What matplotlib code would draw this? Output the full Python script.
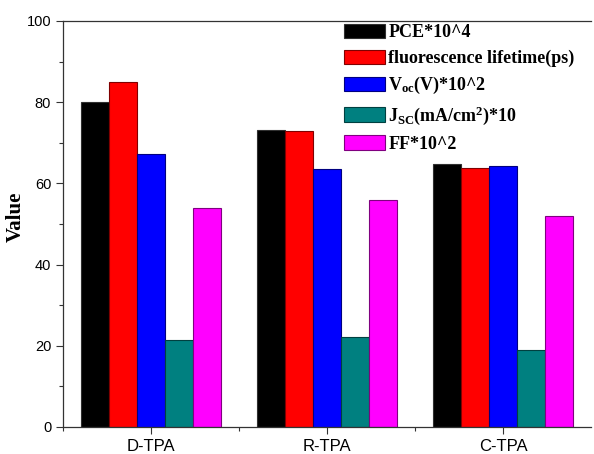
import matplotlib.pyplot as plt
import numpy as np

samples = ["D-TPA", "R-TPA", "C-TPA"]
pce = [80.1, 73.1, 64.9]
lifetime = [84.9, 72.8, 63.9]
voc = [67.2, 63.5, 64.3]
jsc = [21.4, 22.2, 18.9]
ff = [53.9, 55.9, 51.9]

labels = [
    "PCE*10^4",
    "fluorescence lifetime(ps)",
    r"V$_\mathrm{oc}$(V)*10^2",
    r"J$_\mathrm{SC}$(mA/cm$^\mathrm{2}$)*10",
    "FF*10^2",
]
faces = ["#000000", "#ff0000", "#0000ff", "#008080", "#ff00ff"]
edges = ["#303030", "#800000", "#000080", "#004040", "#800080"]


def main():
    plt.rcParams["mathtext.fontset"] = "custom"
    plt.rcParams["mathtext.rm"] = "Liberation Serif:bold"
    plt.rcParams["mathtext.bf"] = "Liberation Serif:bold"
    plt.rcParams["mathtext.it"] = "Liberation Serif:bold:italic"

    fig = plt.figure(figsize=(5.94, 4.54), dpi=100)
    ax = fig.add_axes([63 / 594, 27 / 454, 528 / 594, 406 / 454])

    x = np.arange(1, len(samples) + 1)
    width = 0.16
    series = [pce, lifetime, voc, jsc, ff]
    for ii, vals in enumerate(series):
        ax.bar(x + (ii - 2) * width, vals, width, color=faces[ii], edgecolor=edges[ii],
               linewidth=0.8, label=labels[ii])

    ax.set_xlim(0.5, 3.5)
    ax.set_ylim(0, 100)
    ax.set_xticks(x)
    ax.set_xticklabels(samples, fontsize=12, family="Liberation Sans")
    ax.set_xticks([0.5, 1.5, 2.5], minor=True)
    ax.set_yticks(np.arange(0, 101, 20))
    ax.set_yticks(np.arange(10, 100, 20), minor=True)
    for lab in ax.get_yticklabels():
        lab.set_fontsize(10.5)
        lab.set_family("Liberation Sans")
    ax.tick_params(which="major", direction="out", length=5, width=0.8, colors="#333333",
                   labelcolor="black")
    ax.tick_params(which="minor", direction="out", length=3, width=0.8, colors="#333333")
    ax.tick_params(axis="x", which="both", top=False)
    ax.spines["right"].set_visible(False)
    for side in ["left", "bottom", "top"]:
        ax.spines[side].set_linewidth(0.9)
        ax.spines[side].set_color("#333333")

    ax.set_ylabel("Value", fontsize=15, family="Liberation Serif", fontweight="bold")
    ax.yaxis.set_label_coords(-0.07, 0.517)

    ax.legend(loc="upper left", bbox_to_anchor=(344 / 594, 430 / 454),
              bbox_transform=fig.transFigure, frameon=False, borderpad=0,
              borderaxespad=0, handlelength=2.25, handleheight=0.85, handletextpad=0.2,
              labelspacing=0.45,
              prop={"family": "Liberation Serif", "weight": "bold", "size": 13})

    fig.savefig("out.png", dpi=100)
    plt.close(fig)


if __name__ == "__main__":
    main()
